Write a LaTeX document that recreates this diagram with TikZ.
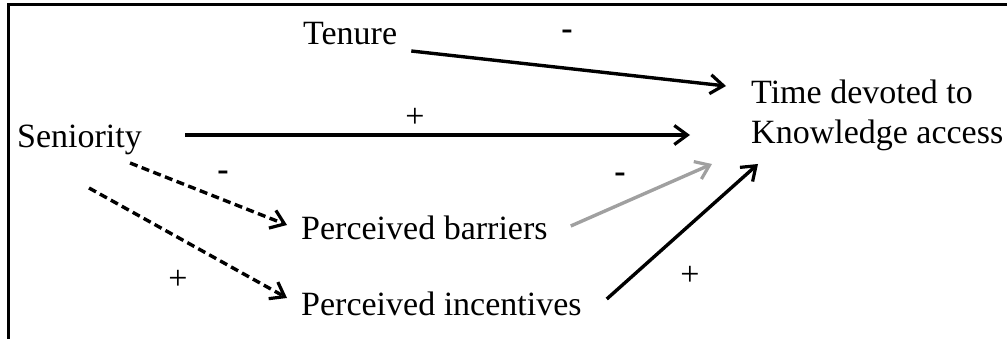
\documentclass[tikz,border=0pt]{standalone}
\usepackage{fontspec}
\setmainfont{Liberation Serif}
\usetikzlibrary{arrows.meta,calc}
\definecolor{barriergrey}{RGB}{160,160,160}
\begin{document}
\begin{tikzpicture}[x=1pt,y=-1pt,
  lbl/.style={inner sep=0pt,font=\fontsize{34}{40}\selectfont},
  sign/.style={inner sep=0pt,font=\fontsize{34}{40}\selectfont},
  link/.style={line width=3.4pt,-{Straight Barb[length=13pt,width=19pt,line width=3.2pt]}},
  dashlink/.style={link,dash pattern=on 8pt off 4.5pt},
  greylink/.style={link,draw=barriergrey}]
\useasboundingbox (0,0) rectangle (1007,339);
% frame
\draw[line width=3pt] (8,345) -- (8,5) -- (1012,5);

% variables
\node[lbl,anchor=base west] (tenure) at (303,45) {Tenure};
\node[lbl,anchor=base west] (senior) at (17,148) {Seniority};
\node[lbl,anchor=north west,align=left] (time) at (751,80) {Time devoted to\\Knowledge access};
\node[lbl,anchor=base west] (barr) at (301,240) {Perceived barriers};
\node[lbl,anchor=base west] (incent) at (301,315) {Perceived incentives};

% direct effects
\draw[link] ($(tenure.base east)+(14,6)$) -- ($(time.north west)+(-25,6)$);
\draw[link] ($(senior.base east)+(43,-13)$) -- ($(time.north west)+(-61,55)$);
\draw[greylink] ($(barr.base east)+(23,-14)$) -- ($(time.north west)+(-39,84)$);
\draw[link] ($(incent.base east)+(25,-16)$) -- ($(time.north west)+(7,84)$);

% mediated effects
\draw[dashlink] ($(senior.base east)+(-12,15)$) -- ($(barr.base west)+(-14,-15)$);
\draw[dashlink] ($(senior.base west)+(72,40)$) -- ($(incent.base west)+(-14,-17)$);

% signs
\node[sign] (s1) at (567,35) {\textbf{-}};
\node[sign] (s2) at (415,118) {+};
\node[sign] (s3) at (223,176) {\textbf{-}};
\node[sign] (s4) at (178,280) {+};
\node[sign] (s5) at (620,178) {\textbf{-}};
\node[sign] (s6) at (690,276) {+};
\end{tikzpicture}
\end{document}
